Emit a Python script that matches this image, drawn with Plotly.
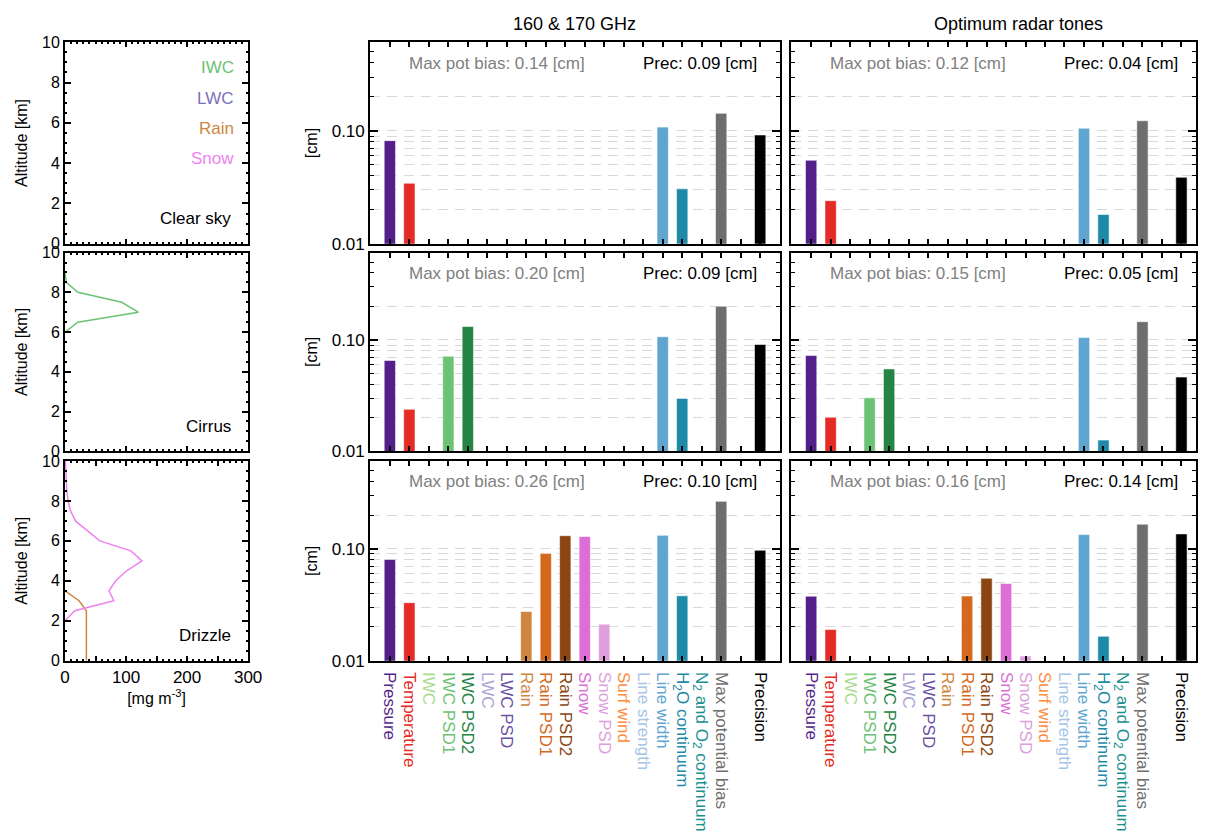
import plotly.graph_objects as go

# ---------------- data ----------------
categories = ["Pressure", "Temperature", "IWC", "IWC PSD1", "IWC PSD2", "LWC", "LWC PSD",
              "Rain", "Rain PSD1", "Rain PSD2", "Snow", "Snow PSD", "Surf wind",
              "Line strength", "Line width", "H<sub>2</sub>O continuum",
              "N<sub>2</sub> and O<sub>2</sub> continuum", "Max potential bias", "", "Precision"]
cat_colors = ["#531f8b", "#e42b25", "#a8dc8c", "#6cc274", "#238443", "#aaa4d6", "#6a51a3",
              "#cd8540", "#d4691e", "#8b4513", "#dc6fd6", "#dea0dc", "#fd8d3c",
              "#a6c4e6", "#60a5d0", "#1e8aa8", "#1a9090", "#6e6e6e", "#ffffff", "#000000"]

N = None
clear_160 = [0.082, 0.0344, N, N, N, N, N, N, N, N, N, N, N, N, 0.108, 0.0307, N, 0.143, N, 0.092]
clear_opt = [0.0549, 0.0241, N, N, N, N, N, N, N, N, N, N, N, N, 0.1055, 0.0182, N, 0.123, N, 0.0388]
cirrus_160 = [0.0654, 0.0238, N, 0.0714, 0.132, N, N, N, N, N, N, N, N, N, 0.107, 0.0298, N, 0.201, N, 0.091]
cirrus_opt = [0.0724, 0.0202, N, 0.0302, 0.0549, N, N, N, N, N, N, N, N, N, 0.105, 0.0126, N, 0.146, N, 0.0464]
drizzle_160 = [0.0802, 0.033, N, N, N, N, N, 0.0275, 0.091, 0.131, 0.129, 0.0212, N, N, 0.132, 0.038, N, 0.266, N, 0.097]
drizzle_opt = [0.0377, 0.019, N, N, N, N, N, 0.0101, 0.0378, 0.0545, 0.049, 0.011, N, N, 0.134, 0.0165, N, 0.166, N, 0.136]

bias_text = [["0.14", "0.12"], ["0.20", "0.15"], ["0.26", "0.16"]]
prec_text = [["0.09", "0.04"], ["0.09", "0.05"], ["0.10", "0.14"]]
scene_names = ["Clear sky", "Cirrus", "Drizzle"]
column_titles = ["160 & 170 GHz", "Optimum radar tones"]

# profiles (altitude km, mg m-3)
cirrus_iwc_alt = [6.0, 6.5, 7.0, 7.5, 8.0, 8.5, 9.0]
cirrus_iwc_val = [0, 21, 120, 93, 21, 2, 0]
drizzle_snow_alt = [2.0, 2.5, 3.0, 3.5, 4.0, 4.5, 5.0, 5.5, 6.0, 6.5, 7.0, 7.5, 8.0, 8.5, 9.0, 9.5, 10.0]
drizzle_snow_val = [0, 16, 80, 72, 83, 101, 126, 108, 57, 36, 17, 9, 5, 3, 2, 1, 0.5]
drizzle_rain_alt = [0.0, 0.5, 1.0, 1.5, 2.0, 2.5, 3.0, 3.5]
drizzle_rain_val = [35, 35, 35, 35, 35, 35, 23, 0]

hydro_names = ["IWC", "LWC", "Rain", "Snow"]
hydro_colors = ["#6cc274", "#7a70bc", "#cd8540", "#ee82ee"]

# ---------------- layout helpers ----------------
W, H = 1210, 836
FONT = "Liberation Sans, Arial, sans-serif"
FS = 17


def fx(p):
    return p / W


def fy(p):
    return 1 - p / H


def ax(letter, i):
    return letter if i == 1 else f"{letter}{i}"


def key(letter, i):
    return f"{letter}axis" if i == 1 else f"{letter}axis{i}"


rows_px = [(35, 241), (250, 453), (463, 667)]
left_dom = [fx(61), fx(247)]
col_dom = [[fx(371), fx(787)], [fx(799), 1.0]]
right_end = (W - 819) / 19.8
col_range = [[-1.01, 20.0], [-1.01, right_end]]
LOGR = [-2, -0.215]

fig = go.Figure()
layout = dict(width=W, height=H, margin=dict(l=0, r=0, t=0, b=0),
              paper_bgcolor="white", plot_bgcolor="white", showlegend=False,
              font=dict(family=FONT, size=FS, color="black"))
annotations = []

# ---------------- left profile panels ----------------
profiles = [
    [],
    [(cirrus_iwc_val, cirrus_iwc_alt, hydro_colors[0])],
    [(drizzle_rain_val, drizzle_rain_alt, hydro_colors[2]), (drizzle_snow_val, drizzle_snow_alt, hydro_colors[3])],
]
for r in range(3):
    i = r + 1
    xa, ya = ax("x", i), ax("y", i)
    top, bot = rows_px[r]
    for (xv, yv, c) in profiles[r]:
        fig.add_trace(go.Scatter(x=xv, y=yv, mode="lines", line=dict(color=c, width=1.5),
                                 xaxis=xa, yaxis=ya, hoverinfo="skip"))
    if not profiles[r]:
        fig.add_trace(go.Scatter(x=[None], y=[None], xaxis=xa, yaxis=ya, hoverinfo="skip"))
    xd = dict(domain=left_dom, anchor=ya, range=[0, 300],
              tickvals=[0, 50, 100, 150, 200, 250, 300],
              ticktext=["0", "", "100", "", "200", "", "300"],
              ticks="inside", ticklen=5, tickwidth=1.5, tickcolor="black",
              minor=dict(dtick=10, ticks="inside", ticklen=2, tickcolor="black"),
              showline=True, linewidth=2, linecolor="black", mirror="ticks",
              showgrid=False, zeroline=False, showticklabels=(r == 2),
              tickfont=dict(size=17))
    if r == 2:
        xd["title"] = dict(text="[mg m<sup>-3</sup>]", font=dict(size=16), standoff=0)
    layout[key("x", i)] = xd
    layout[key("y", i)] = dict(domain=[fy(bot), fy(top)], anchor=xa, range=[0, 10],
                               tickvals=[0, 2, 4, 6, 8, 10], ticks="inside", ticklen=6, tickwidth=1.5,
                               tickcolor="black",
                               minor=dict(dtick=0.5, ticks="inside", ticklen=2, tickcolor="black"),
                               showline=True, linewidth=2, linecolor="black", mirror="ticks",
                               showgrid=False, zeroline=False, tickfont=dict(size=16),
                               title=dict(text="Altitude [km]", font=dict(size=16), standoff=10))
    annotations.append(dict(text=scene_names[r], xref=f"{xa} domain", yref=f"{ya} domain",
                            x=0.92, y=0.125, xanchor="right", yanchor="middle", showarrow=False,
                            font=dict(size=FS, color="black")))

# hydrometeor legend text in the first panel
legend_y = [0.873, 0.722, 0.571, 0.424]
for name, c, yy in zip(hydro_names, hydro_colors, legend_y):
    annotations.append(dict(text=name, xref="x domain", yref="y domain", x=0.935, y=yy,
                            xanchor="right", yanchor="middle", showarrow=False,
                            font=dict(size=FS, color=c)))

# ---------------- bar panels ----------------
panel_data = [[clear_160, clear_opt], [cirrus_160, cirrus_opt], [drizzle_160, drizzle_opt]]
tick_text = [f"<span style='color:{c}'>{t}</span>" if t else "" for t, c in zip(categories, cat_colors)]
major_vals = [0.01, 0.1]
minor_vals = [0.02, 0.03, 0.04, 0.05, 0.06, 0.07, 0.08, 0.09, 0.2, 0.3, 0.4, 0.5]
grid_vals = [0.02, 0.03, 0.04, 0.05, 0.06, 0.07, 0.08, 0.09, 0.1, 0.2]

idx = 4
ov = 10
for r in range(3):
    top, bot = rows_px[r]
    for c in range(2):
        xa, ya = ax("x", idx), ax("y", idx)
        vals = panel_data[r][c]
        fig.add_trace(go.Bar(x=list(range(len(categories))), y=vals,
                             marker=dict(color=cat_colors,
                                         line=dict(color="rgba(255,255,255,0.55)", width=1)),
                             width=0.58, xaxis=xa, yaxis=ya, hoverinfo="skip"))
        layout[key("x", idx)] = dict(domain=col_dom[c], anchor=ya, range=col_range[c],
                                     tickmode="array", tickvals=list(range(len(categories))),
                                     ticktext=tick_text, tickangle=90,
                                     ticks="inside", ticklen=5, tickwidth=1.5, tickcolor="black",
                                     showline=True, linewidth=2, linecolor="black", mirror="ticks",
                                     showgrid=False, zeroline=False, showticklabels=(r == 2),
                                     tickfont=dict(size=FS), ticklabelstandoff=6)
        ydict = dict(domain=[fy(bot), fy(top)], anchor=xa, type="log", range=LOGR,
                     tickmode="array", tickvals=major_vals,
                     ticktext=["0.01", "0.10"], ticks="inside", ticklen=8, tickwidth=1.5,
                     tickcolor="black",
                     minor=dict(tickmode="array", tickvals=minor_vals, ticks="inside", ticklen=4,
                                tickcolor="black", tickwidth=1.2, showgrid=False),
                     showline=True, linewidth=2, linecolor="black", mirror="ticks",
                     showgrid=False, zeroline=False, showticklabels=(c == 0),
                     tickfont=dict(size=17))
        if c == 0:
            ydict["title"] = dict(text="[cm]", font=dict(size=16), standoff=10)
        layout[key("y", idx)] = ydict
        # overlay axis carrying the dashed gridlines
        layout[key("y", ov)] = dict(overlaying=ya, anchor=xa, type="log", range=LOGR,
                                    tickmode="array", tickvals=grid_vals, showticklabels=False,
                                    ticks="", showline=False, zeroline=False, showgrid=True,
                                    gridcolor="#d9d9d9", gridwidth=1, griddash="10px,7px")
        fig.add_trace(go.Scatter(x=[None], y=[None], xaxis=xa, yaxis=ax("y", ov), hoverinfo="skip"))

        annotations.append(dict(text=f"Max pot bias: {bias_text[r][c]} [cm]", xref=xa,
                                yref=f"{ya} domain", x=0.86, y=0.895, xanchor="left",
                                yanchor="middle", showarrow=False,
                                font=dict(size=FS, color="#808080")))
        annotations.append(dict(text=f"Prec: {prec_text[r][c]} [cm]", xref=xa,
                                yref=f"{ya} domain", x=18.95, y=0.895, xanchor="right",
                                yanchor="middle", showarrow=False,
                                font=dict(size=FS, color="black")))
        idx += 1
        ov += 1

# column titles
annotations.append(dict(text=column_titles[0], xref="paper", yref="paper", x=fx(579), y=fy(16),
                        xanchor="center", yanchor="middle", showarrow=False, font=dict(size=18)))
annotations.append(dict(text=column_titles[1], xref="paper", yref="paper", x=fx(1030), y=fy(16),
                        xanchor="center", yanchor="middle", showarrow=False, font=dict(size=18)))

layout["annotations"] = annotations
fig.update_layout(**layout)
fig.write_html("out.html", config={"displayModeBar": False},
               post_script="document.body.style.margin='0px';")
